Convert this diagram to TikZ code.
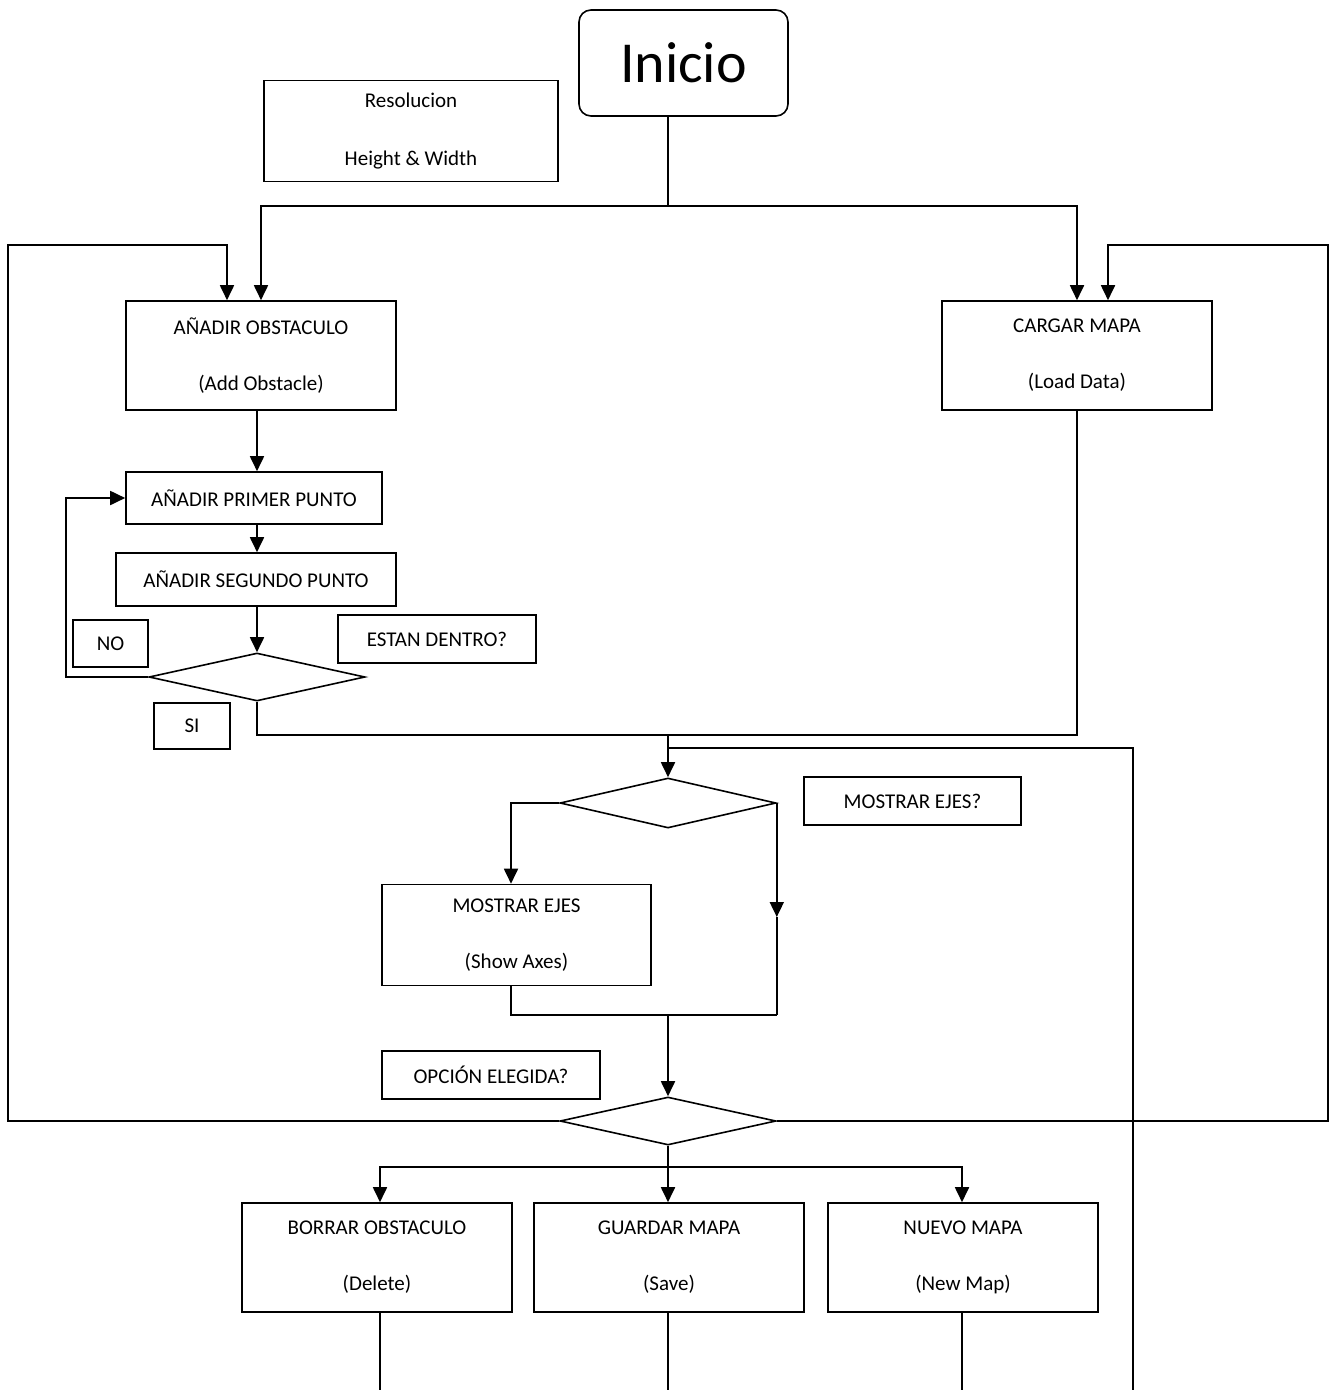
\documentclass[tikz,border=0pt]{standalone}
\usepackage{fontspec}
\setmainfont{Carlito}
\usetikzlibrary{arrows.meta,shapes.geometric}
\begin{document}
\begin{tikzpicture}[x=1pt,y=-1pt,
  every node/.style={font=\fontsize{21}{25}\selectfont},
  box/.style={draw,line width=1.6pt,inner sep=0pt,align=center},
  dia/.style={draw,line width=1.6pt,diamond,inner sep=0pt,minimum width=216pt,minimum height=48pt},
  conn/.style={line width=1.8pt},
  thinconn/.style={line width=1.2pt},
  arr/.style={conn,-{Triangle[length=15pt,width=14pt]}}]
\useasboundingbox (0,0) rectangle (1332,1390);
% nodes
\node[box,rounded corners=12pt,minimum width=209pt,minimum height=106pt,font=\fontsize{58}{60}\selectfont] (inicio) at (683.5,63) {Inicio};
\node[box,minimum width=294pt,minimum height=101pt] (res) at (411,131) {Resolucion\\[33pt]Height \& Width};
\node[box,minimum width=270pt,minimum height=109pt] (anadir) at (261,355.5) {AÑADIR OBSTACULO\\[31pt](Add Obstacle)};
\node[box,minimum width=270pt,minimum height=109pt] (cargar) at (1077,355.5) {CARGAR MAPA\\[31pt](Load Data)};
\node[box,minimum width=256pt,minimum height=52pt] (primer) at (254,498) {AÑADIR PRIMER PUNTO};
\node[box,minimum width=280pt,minimum height=53pt] (segundo) at (256,579.5) {AÑADIR SEGUNDO PUNTO};
\node[dia] (d1) at (257,677) {};
\node[box,minimum width=75pt,minimum height=47pt] (no) at (110.5,643.5) {NO};
\node[box,minimum width=198pt,minimum height=48pt] (estan) at (437,639) {ESTAN DENTRO?};
\node[box,minimum width=76pt,minimum height=46pt] (si) at (192,726) {SI};
\node[dia,minimum height=50pt] (d2) at (668,803) {};
\node[box,minimum width=217pt,minimum height=48pt] (mq) at (912.5,801) {MOSTRAR EJES?};
\node[box,minimum width=269pt,minimum height=101pt] (mostrar) at (516.5,935) {MOSTRAR EJES\\[31pt](Show Axes)};
\node[box,minimum width=218pt,minimum height=48pt] (opcion) at (491,1075) {OPCIÓN ELEGIDA?};
\node[dia] (d3) at (668,1121) {};
\node[box,minimum width=270pt,minimum height=109pt] (borrar) at (377,1257.5) {BORRAR OBSTACULO\\[31pt](Delete)};
\node[box,minimum width=270pt,minimum height=109pt] (guardar) at (669,1257.5) {GUARDAR MAPA\\[31pt](Save)};
\node[box,minimum width=270pt,minimum height=109pt] (nuevo) at (963,1257.5) {NUEVO MAPA\\[31pt](New Map)};
% coordinates
\coordinate (j0) at (668,206);
\coordinate (lb) at (8,1121);
\coordinate (lt) at (8,245);
\coordinate (rb) at (1328,1121);
\coordinate (rt) at (1328,245);
\coordinate (cx) at (257,0);
\coordinate (nol) at (66,677);
\coordinate (j1) at (668,735);
\coordinate (j2) at (668,748);
\coordinate (rr) at (1133,1390);
\coordinate (mx) at (511,0);
\coordinate (ma) at (d2.east |- 0,917);
\coordinate (j3) at (d2.east |- 0,1015);
\coordinate (j4) at (668,1167);
\coordinate (bot) at (0,1390);
% connectors
\draw[thinconn] (j0 |- inicio.south) -- (j0);
\draw[arr] (j0) -| (anadir.north);
\draw[arr] (j0) -| (cargar.north);
\draw[arr] (d3.west) -- (lb) -- (lt) -| ([xshift=-34pt]anadir.north);
\draw[arr] (d3.east) -- (rb) -- (rt) -| ([xshift=31pt]cargar.north);
\draw[arr] (anadir.south -| cx) -- (primer.north -| cx);
\draw[arr] (primer.south -| cx) -- (segundo.north -| cx);
\draw[arr] (segundo.south -| cx) -- (d1.north);
\draw[arr] (d1.west) -- (nol) |- (primer.west);
\draw[conn] (d1.south) |- (j1) -| (cargar.south);
\draw[arr] (j1) -- (d2.north);
\draw[thinconn] (j2) -| (rr);
\draw[arr] (d2.west) -| (mx |- mostrar.north);
\draw[arr] (d2.east) -- (ma);
\draw[conn] (ma) -- (j3);
\draw[conn] (mx |- mostrar.south) |- (j3);
\draw[arr] (j3 -| d3.north) -- (d3.north);
\draw[conn] (d3.south) -- (j4);
\draw[arr] (j4) -| ([xshift=3pt]borrar.north);
\draw[arr] (j4) -- (j4 |- guardar.north);
\draw[arr] (j4) -| ([xshift=-1pt]nuevo.north);
\draw[thinconn] ([xshift=3pt]borrar.south) -- ([xshift=3pt]borrar.south |- bot);
\draw[thinconn] (j4 |- guardar.south) -- (j4 |- bot);
\draw[thinconn] ([xshift=-1pt]nuevo.south) -- ([xshift=-1pt]nuevo.south |- bot);
\end{tikzpicture}
\end{document}
